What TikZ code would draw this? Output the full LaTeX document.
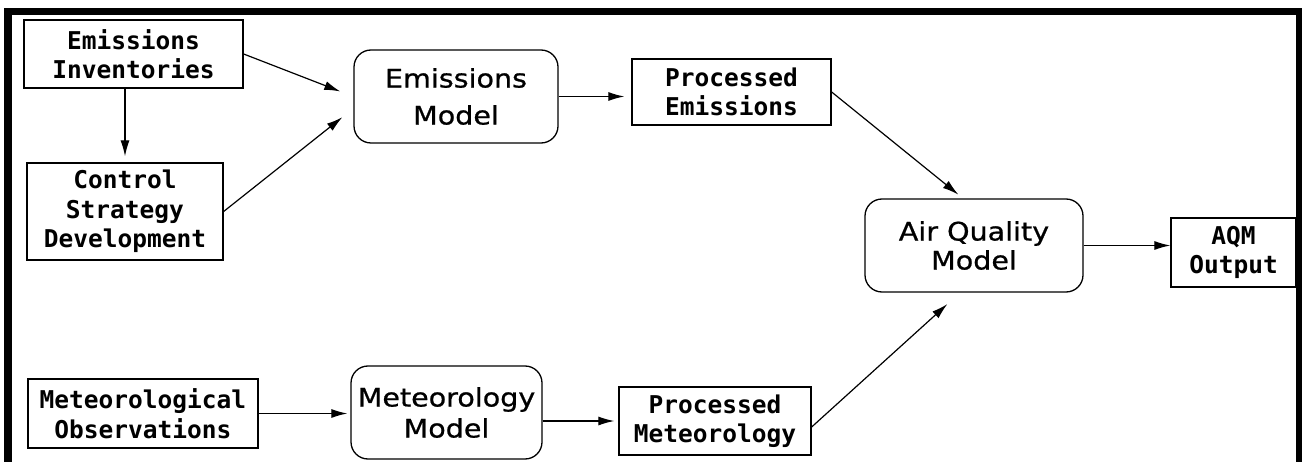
\documentclass[tikz,border=0pt]{standalone}
\usepackage{fontspec}
\usetikzlibrary{arrows.meta}
\newfontfamily\boxfont{DejaVu Sans Mono Bold}
\newfontfamily\modelfont{DejaVu Sans}[FakeStretch=1.12,FakeBold=0.8]
\begin{document}
\begin{tikzpicture}[x=1pt,y=-1pt,
  smallbox/.style={draw,line width=1.3pt,inner sep=0pt,align=center,
    font=\boxfont\fontsize{24.5}{29.5}\selectfont},
  modelbox/.style={draw,line width=1.3pt,inner sep=0pt,align=center,rounded corners=17pt,
    font=\modelfont\fontsize{25.5}{31}\selectfont},
  arr/.style={line width=1.2pt,-{Latex[length=16pt,width=9pt]}}]
\useasboundingbox (0,0) rectangle (1303,462);
% frame
\fill (4,8) rectangle (12,462);
\fill (4,8) rectangle (1302,15);
\fill (1296,8) rectangle (1302,462);
% nodes
\node[smallbox,minimum width=219pt,minimum height=68pt] (EI) at (133.5,54) {Emissions\\Inventories};
\node[smallbox,minimum width=196pt,minimum height=97pt] (CSD) at (125,211.5) {Control\\Strategy\\Development};
\node[smallbox,minimum width=230pt,minimum height=69pt] (MO) at (143,413.5) {Meteorological\\Observations};
\node[modelbox,minimum width=204pt,minimum height=93pt] (EM) at (456,96.5) {Emissions\\[6pt]Model};
\node[smallbox,minimum width=199pt,minimum height=66pt] (PE) at (731.5,92) {Processed\\Emissions};
\node[modelbox,minimum width=191pt,minimum height=93pt] (MM) at (446.5,412.5) {Meteorology\\Model};
\node[smallbox,minimum width=192pt,minimum height=68pt] (PM) at (715,421) {Processed\\Meteorology};
\node[modelbox,minimum width=218pt,minimum height=93pt] (AQ) at (974,245.5) {Air Quality\\[-2pt]Model};
\node[smallbox,minimum width=125pt,minimum height=69pt] (AQM) at (1233.5,252.5) {AQM\\Output};
% connectors
\draw[arr,shorten >=14pt] (EI.east) -- (EM.west);
\draw[arr,shorten >=14pt] (CSD.east) -- ([yshift=-12pt]EM.west);
\draw[arr,shorten >=6pt] (EI.south -| CSD.north) -- (CSD.north);
\draw[arr,shorten >=7pt] (EM.east) -- (EM.east -| PE.west);
\draw[arr,shorten >=6pt] (PE.east) -- ([xshift=-11pt]AQ.north);
\draw[arr,shorten >=3pt] (MO.east) -- (MO.east -| MM.west);
\draw[arr,shorten >=4pt] (MM.east |- PM.west) -- (PM.west);
\draw[arr,shorten >=17pt] ([yshift=-6pt]PM.east) -- ([xshift=-14pt]AQ.south);
\draw[arr] (AQ.east) -- (AQ.east -| AQM.west);
\end{tikzpicture}
\end{document}
